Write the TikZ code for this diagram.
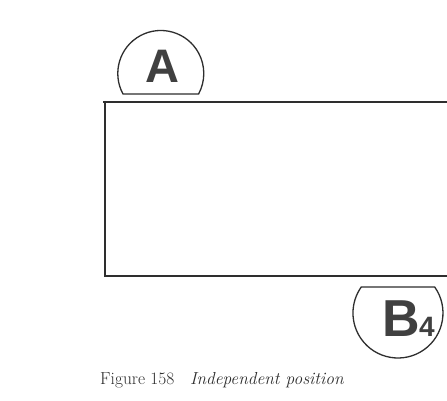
\documentclass[tikz,border=0pt]{standalone}
\usepackage{fontspec}
\newfontfamily\letterfont{Liberation Sans}
\definecolor{ink}{HTML}{2E2E2E}
\definecolor{letter}{HTML}{404040}
\begin{document}
\begin{tikzpicture}[x=1pt,y=-1pt,
  edge/.style={draw=ink,line width=1.6pt},
  arcline/.style={draw=ink,line width=1.3pt},
  bigletter/.style={text=letter,font=\letterfont\bfseries\fontsize{47}{47}\selectfont,inner sep=0pt},
  caption/.style={text=ink,font=\fontsize{17.4}{19}\selectfont,inner sep=0pt,anchor=base west}]
\useasboundingbox (0,0) rectangle (447,401);
\fill[white] (0,0) rectangle (447,401);
% rectangle (right side off the page)
\coordinate (tl) at (103,102);
\coordinate (tr) at (447,102);
\coordinate (bl) at (105,276);
\coordinate (br) at (447,276);
\draw[edge] (tr) -- (tl);
\draw[edge] (105,101) -- (bl) -- (br);
% segment A
\coordinate (a1) at (123,94);
\draw[arcline] (a1) arc[start angle=151.5,end angle=388.5,radius=43] -- cycle;
\node[bigletter,anchor=base] (A) at (162,83) {A};
% segment B4
\coordinate (b2) at (434.7,287);
\draw[arcline] (b2) arc[start angle=-35.3,end angle=215.3,radius=45] -- cycle;
\node[bigletter,font=\letterfont\bfseries\fontsize{52}{52}\selectfont,anchor=base west] (B) at (382,336) {B};
\node[text=letter,font=\letterfont\bfseries\fontsize{28}{28}\selectfont,inner sep=0pt,anchor=base west] (four) at ([xshift=-1pt]B.base east) {4};
% caption
\node[caption] (cap) at (100,384) {Figure 158\hspace{0.9em}\textit{Independent position}};
\end{tikzpicture}
\end{document}
